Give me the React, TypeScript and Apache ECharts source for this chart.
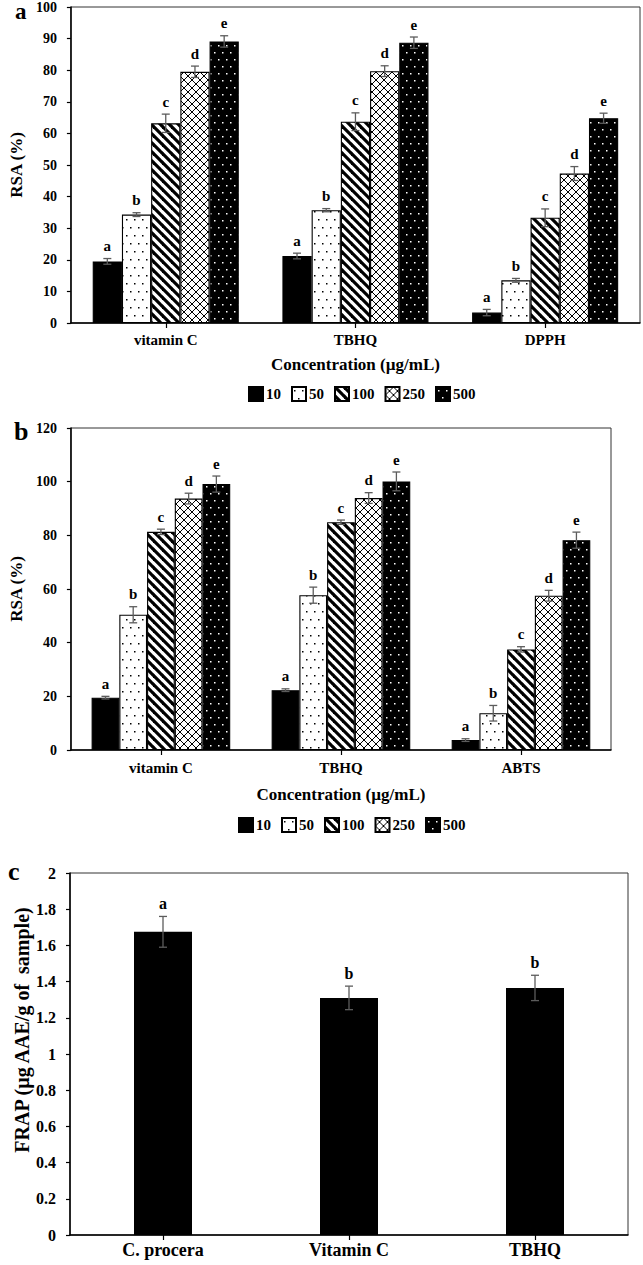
import React, { useEffect, useRef } from "react";
import * as echarts from "echarts";

// ---------- data ----------
const concentrations = ["10", "50", "100", "250", "500"];
const letterByConc = ["a", "b", "c", "d", "e"];

// Panel a (DPPH)
const catsA = ["vitamin C", "TBHQ", "DPPH"];
const a10 = [19.5, 21.2, 3.3];
const a50 = [34.3, 35.7, 13.5];
const a100 = [63.2, 63.7, 33.3];
const a250 = [79.5, 79.7, 47.3];
const a500 = [89.1, 88.7, 64.8];
const a10Err = [0.9, 0.9, 1.0];
const a50Err = [0.6, 0.5, 0.6];
const a100Err = [2.9, 2.8, 2.8];
const a250Err = [1.8, 1.7, 2.2];
const a500Err = [1.8, 1.8, 1.6];
const ticksA = { max: 100, interval: 10 };

// Panel b (ABTS)
const catsB = ["vitamin C", "TBHQ", "ABTS"];
const b10 = [19.5, 22.3, 3.7];
const b50 = [50.4, 57.7, 13.7];
const b100 = [81.3, 84.9, 37.5];
const b250 = [93.7, 93.9, 57.5];
const b500 = [99.1, 100.1, 78.2];
const b10Err = [0.5, 0.5, 0.5];
const b50Err = [3.0, 3.0, 2.9];
const b100Err = [1.0, 0.8, 1.0];
const b250Err = [2.0, 2.0, 2.0];
const b500Err = [3.0, 3.5, 3.0];
const ticksB = { max: 120, interval: 20 };

// Panel c (FRAP)
const catsC = ["C. procera", "Vitamin C", "TBHQ"];
const frapVals = [1.675, 1.31, 1.365];
const frapErr = [0.085, 0.065, 0.07];
const frapLetters = ["a", "b", "b"];
const ticksC = { max: 2, interval: 0.2 };

// ---------- styling helpers ----------
const FONT = "'Liberation Serif', 'Times New Roman', serif";
const ERR_COLOR = "#5c5c5c";

function tile(w: number, h: number, draw: (ctx: CanvasRenderingContext2D) => void) {
  const c = document.createElement("canvas");
  c.width = w;
  c.height = h;
  const ctx = c.getContext("2d") as CanvasRenderingContext2D;
  draw(ctx);
  return c;
}

function makePatterns() {
  const solid = "#000000";
  const dots = tile(8, 16, (ctx) => {
    ctx.fillStyle = "#fff";
    ctx.fillRect(0, 0, 8, 16);
    ctx.fillStyle = "#000";
    ctx.fillRect(2, 3, 1.5, 1.5);
    ctx.fillRect(6, 11, 1.5, 1.5);
  });
  const stripes = tile(9, 9, (ctx) => {
    ctx.fillStyle = "#fff";
    ctx.fillRect(0, 0, 9, 9);
    ctx.strokeStyle = "#000";
    ctx.lineWidth = 3.2;
    for (const dx of [-9, 0, 9]) {
      ctx.beginPath();
      ctx.moveTo(dx - 1, -1);
      ctx.lineTo(dx + 10, 10);
      ctx.stroke();
    }
  });
  const hatch = tile(8, 8, (ctx) => {
    ctx.fillStyle = "#fff";
    ctx.fillRect(0, 0, 8, 8);
    ctx.strokeStyle = "#000";
    ctx.lineWidth = 1;
    for (const dx of [-8, 0, 8]) {
      ctx.beginPath();
      ctx.moveTo(dx, 0);
      ctx.lineTo(dx + 8, 8);
      ctx.stroke();
      ctx.beginPath();
      ctx.moveTo(dx + 8, 0);
      ctx.lineTo(dx, 8);
      ctx.stroke();
    }
  });
  const darkDots = tile(8, 14, (ctx) => {
    ctx.fillStyle = "#000";
    ctx.fillRect(0, 0, 8, 14);
    ctx.fillStyle = "#fff";
    ctx.fillRect(2, 3, 1.5, 1.5);
    ctx.fillRect(6, 10, 1.5, 1.5);
  });
  return [
    solid,
    { image: dots, repeat: "repeat" },
    { image: stripes, repeat: "repeat" },
    { image: hatch, repeat: "repeat" },
    { image: darkDots, repeat: "repeat" },
  ];
}

function errorSeries(
  idx: number,
  vals: number[][],
  errs: number[][],
  letterFor: (s: number, c: number) => string,
  gapRatio: number,
  barWidthFrac: number | null,
  letterSize: number
) {
  const data: number[][] = [];
  vals.forEach((row, s) => row.forEach((v, c) => data.push([c, v, errs[s][c], s])));
  const n = vals.length;
  return {
    type: "custom",
    name: "err" + idx,
    xAxisIndex: idx,
    yAxisIndex: idx,
    z: 10,
    silent: true,
    encode: { x: 0, y: 1 },
    data,
    renderItem: (params: any, api: any) => {
      const c = api.value(0);
      const v = api.value(1);
      const e = api.value(2);
      const s = api.value(3);
      const band = api.size([1, 0])[0];
      const total = barWidthFrac != null ? barWidthFrac : band * (1 - gapRatio);
      const bw = total / n;
      const center = api.coord([c, v]);
      const x = center[0] - total / 2 + bw * (s + 0.5);
      const yTop = api.coord([c, v + e])[1];
      const yBot = api.coord([c, v - e])[1];
      const cap = 4;
      const st = { stroke: ERR_COLOR, lineWidth: 1.3 };
      return {
        type: "group",
        children: [
          { type: "line", shape: { x1: x, y1: yTop, x2: x, y2: yBot }, style: st },
          { type: "line", shape: { x1: x - cap, y1: yTop, x2: x + cap, y2: yTop }, style: st },
          { type: "line", shape: { x1: x - cap, y1: yBot, x2: x + cap, y2: yBot }, style: st },
          {
            type: "text",
            x: x,
            y: yTop - 5,
            style: {
              text: letterFor(s, c),
              fill: "#000",
              font: "bold " + letterSize + "px " + FONT,
              align: "center",
              textAlign: "center",
              verticalAlign: "bottom",
              textVerticalAlign: "bottom",
            },
          },
        ],
      };
    },
  };
}

function xAxisCfg(idx: number, cats: string[], name: string, margin: number, nameGap: number, fontSize: number) {
  return {
    type: "category",
    gridIndex: idx,
    data: cats,
    axisLine: { show: true, lineStyle: { color: "#000", width: 1.5 } },
    axisTick: { show: true, alignWithLabel: true, length: 5, lineStyle: { color: "#000", width: 1.2 } },
    axisLabel: { color: "#000", fontFamily: FONT, fontWeight: "bold", fontSize, margin },
    name,
    nameLocation: "middle",
    nameGap,
    nameTextStyle: { color: "#000", fontFamily: FONT, fontWeight: "bold", fontSize: 17 },
  };
}

function yAxisCfg(idx: number, t: { max: number; interval: number }, name: string, nameGap: number, fontSize: number, nameSize: number) {
  return {
    type: "value",
    gridIndex: idx,
    min: 0,
    max: t.max,
    interval: t.interval,
    axisLine: { show: true, lineStyle: { color: "#000", width: 1.5 } },
    axisTick: { show: true, length: 4, lineStyle: { color: "#000", width: 1.2 } },
    splitLine: { show: false },
    axisLabel: { color: "#000", fontFamily: FONT, fontWeight: "bold", fontSize, margin: 14 },
    name,
    nameLocation: "middle",
    nameRotate: 90,
    nameGap,
    nameTextStyle: { color: "#000", fontFamily: FONT, fontWeight: "bold", fontSize: nameSize },
  };
}

export default function App() {
  const ref = useRef<HTMLDivElement>(null);

  useEffect(() => {
    if (!ref.current) return;
    const chart = echarts.init(ref.current, undefined, { renderer: "svg" });
    const patterns = makePatterns();

    const valsA = [a10, a50, a100, a250, a500];
    const errsA = [a10Err, a50Err, a100Err, a250Err, a500Err];
    const valsB = [b10, b50, b100, b250, b500];
    const errsB = [b10Err, b50Err, b100Err, b250Err, b500Err];
    const gap = 0.23;

    const barSeries = (idx: number, vals: number[][]) =>
      vals.map((row, s) => ({
        type: "bar",
        name: concentrations[s],
        xAxisIndex: idx,
        yAxisIndex: idx,
        data: row,
        barGap: "0%",
        barCategoryGap: gap * 100 + "%",
        itemStyle: { color: patterns[s], borderColor: "#000", borderWidth: 1.1 },
      }));

    const legendCfg = (left: number, top: number) => ({
      left,
      top,
      padding: 0,
      itemWidth: 14,
      itemHeight: 14,
      itemGap: 10,
      icon: "rect",
      selectedMode: false,
      data: concentrations,
      textStyle: { color: "#000", fontFamily: FONT, fontWeight: "bold", fontSize: 15, padding: [0, 0, 0, -2] },
    });

    const panelLetter = (text: string, x: number, y: number, size: number) => ({
      type: "text",
      x,
      y,
      style: {
        text,
        fill: "#000",
        font: "bold " + size + "px " + FONT,
        verticalAlign: "top",
        textVerticalAlign: "top",
      },
    });

    const option: any = {
      animation: false,
      backgroundColor: "#fff",
      grid: [
        { left: 70, top: 7, width: 570, height: 316, show: true, borderColor: "#333", borderWidth: 1, containLabel: false },
        { left: 70, top: 428, width: 541, height: 322, show: true, borderColor: "#333", borderWidth: 1, containLabel: false },
        { left: 70, top: 873, width: 558, height: 362, show: true, borderColor: "#333", borderWidth: 1, containLabel: false },
      ],
      legend: [legendCfg(248, 386), legendCfg(238, 817)],
      xAxis: [
        xAxisCfg(0, catsA, "Concentration (µg/mL)", 9, 33, 15),
        xAxisCfg(1, catsB, "Concentration (µg/mL)", 10, 36, 15),
        xAxisCfg(2, catsC, "", 6, 30, 18),
      ],
      yAxis: [
        yAxisCfg(0, ticksA, "RSA (%)", 40, 14, 17),
        yAxisCfg(1, ticksB, "RSA (%)", 40, 14, 17),
        yAxisCfg(2, ticksC, "", 38, 16, 19),
      ],
      graphic: [
        panelLetter("a", 15, 0, 23),
        panelLetter("b", 14, 418, 26),
        panelLetter("c", 8, 858, 26),
        {
          type: "text",
          x: 22,
          y: 1030,
          rotation: Math.PI / 2,
          style: {
            text: "FRAP (µg AAE/g of  sample)",
            fill: "#000",
            font: "bold 20px " + FONT,
            align: "center",
            textAlign: "center",
            verticalAlign: "middle",
            textVerticalAlign: "middle",
          },
        },
      ],
      series: [
        ...barSeries(0, valsA),
        errorSeries(0, valsA, errsA, (s) => letterByConc[s], gap, null, 15),
        ...barSeries(1, valsB),
        errorSeries(1, valsB, errsB, (s) => letterByConc[s], gap, null, 15),
        {
          type: "bar",
          name: "FRAP",
          xAxisIndex: 2,
          yAxisIndex: 2,
          data: frapVals,
          barWidth: 58,
          itemStyle: { color: "#000" },
        },
        errorSeries(2, [frapVals], [frapErr], (_s, c) => frapLetters[c], gap, 58, 16),
      ],
    };

    chart.setOption(option);
    return () => chart.dispose();
  }, []);

  return (
    <div
      ref={ref}
      style={{ position: "absolute", left: 0, top: 0, width: 643, height: 1265, background: "#fff" }}
    />
  );
}
